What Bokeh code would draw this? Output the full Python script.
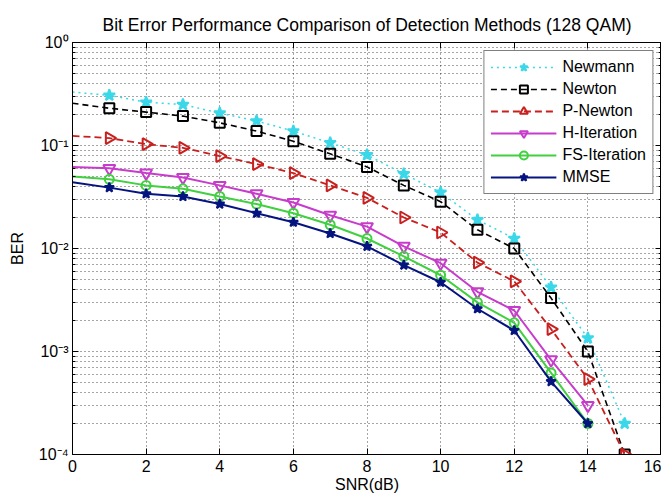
import math
from bokeh.plotting import figure
from bokeh.models import FixedTicker, LinearAxis, LogAxis
from bokeh.embed import file_html
from bokeh.resources import INLINE

# ---------------- data ----------------
snr = [0, 1, 2, 3, 4, 5, 6, 7, 8, 9, 10, 11, 12, 13, 14, 15]
newmann = [0.33, 0.307, 0.263, 0.25, 0.206, 0.173, 0.138, 0.106, 0.081, 0.053,
           0.035, 0.019, 0.0125, 0.0042, 0.00135, 0.0002]
newton = [0.257, 0.23, 0.211, 0.193, 0.166, 0.138, 0.110, 0.083, 0.062, 0.041,
          0.0285, 0.0152, 0.010, 0.0033, 0.001, 0.0001]
pnewton = [0.124, 0.118, 0.103, 0.095, 0.079, 0.066, 0.054, 0.041, 0.031, 0.020,
           0.0143, 0.0073, 0.0048, 0.00165, 0.00054, 0.0001]
hiter = [0.062, 0.060, 0.054, 0.049, 0.041, 0.034, 0.028, 0.021, 0.0163, 0.0105,
         0.0072, 0.0038, 0.0025, 0.00083, 0.0003]
fsiter = [0.050, 0.047, 0.041, 0.038, 0.032, 0.027, 0.022, 0.017, 0.0125, 0.0084,
          0.0055, 0.0030, 0.0019, 0.00062, 0.0002]
mmse = [0.044, 0.039, 0.034, 0.032, 0.027, 0.022, 0.018, 0.014, 0.0105, 0.0069,
        0.0047, 0.0026, 0.0016, 0.00051, 0.0002]

x_ticks = [0, 2, 4, 6, 8, 10, 12, 14, 16]
y_ticks = [1e-4, 1e-3, 1e-2, 1e-1, 1e0]
y_tick_labels = ["10\u207b\u2074", "10\u207b\u00b3", "10\u207b\u00b2", "10\u207b\u00b9", "10\u2070"]
title_text = "Bit Error Performance Comparison of Detection Methods (128 QAM)"

FONT = "Liberation Sans"

y_minor = [k * 10.0 ** n for n in range(-4, 0) for k in range(2, 10)]

p = figure(frame_width=589, frame_height=412,
           x_range=(0, 16), y_range=(1e-4, 1), y_axis_type="log",
           output_backend="svg", toolbar_location=None,
           min_border_left=72, min_border_right=0, min_border_top=42, min_border_bottom=0,
           title=title_text)

p.background_fill_color = "white"
p.border_fill_color = "white"
p.outline_line_color = "black"
p.outline_line_width = 1

p.title.text_font = FONT
p.title.text_font_size = "17.5px"
p.title.text_font_style = "normal"
p.title.align = "center"
p.title.text_color = "black"
p.title.standoff = 16


def style_axis(ax, labels=True):
    ax.axis_line_color = "black"
    ax.major_tick_line_color = "black"
    ax.minor_tick_line_color = "black"
    ax.major_tick_in = 6
    ax.major_tick_out = 0
    ax.minor_tick_in = 3
    ax.minor_tick_out = 0
    ax.major_label_text_font = FONT
    ax.axis_label_text_font = FONT
    ax.axis_label_text_font_style = "normal"
    ax.axis_label_text_color = "black"
    if labels:
        ax.major_label_text_color = "black"
        ax.major_label_text_font_size = "16px"
        ax.axis_label_text_font_size = "16px"
    else:
        ax.major_label_text_color = None
        ax.major_label_text_font_size = "1px"
        ax.major_label_standoff = 0


xt = FixedTicker(ticks=x_ticks, minor_ticks=[])
yt = FixedTicker(ticks=y_ticks, minor_ticks=y_minor)

xa = p.xaxis[0]
xa.ticker = xt
xa.axis_label = "SNR(dB)"
style_axis(xa)
xa.major_label_standoff = 5
xa.axis_label_standoff = 1

ya = p.yaxis[0]
ya.ticker = yt
ya.axis_label = "BER"
ya.major_label_overrides = {t: l for t, l in zip(y_ticks, y_tick_labels)}
style_axis(ya)
ya.major_label_standoff = 4
ya.axis_label_standoff = 10

top = LinearAxis(ticker=FixedTicker(ticks=x_ticks, minor_ticks=[]))
style_axis(top, labels=False)
top.major_label_overrides = {t: " " for t in x_ticks}
p.add_layout(top, "above")
right = LogAxis(ticker=FixedTicker(ticks=y_ticks, minor_ticks=y_minor))
style_axis(right, labels=False)
right.major_label_overrides = {t: " " for t in y_ticks}
p.add_layout(right, "right")

p.xgrid.ticker = xt
p.ygrid.ticker = yt
for g in (p.xgrid, p.ygrid):
    g.grid_line_color = "black"
    g.grid_line_alpha = 0.7
    g.grid_line_dash = "1 3"
    g.grid_line_width = 1
p.ygrid.minor_grid_line_color = "black"
p.ygrid.minor_grid_line_alpha = 0.7
p.ygrid.minor_grid_line_dash = "1 3"

series = [
    ("Newmann", newmann, "#3ad8e8", "dotted", 1.5, "star", 12, True),
    ("Newton", newton, "black", "6 4", 1.6, "square", 10, False),
    ("P-Newton", pnewton, "#c8201e", "7 4", 1.8, "triangle", 12, False),
    ("H-Iteration", hiter, "#c83ccc", "solid", 2.0, "inverted_triangle", 12, False),
    ("FS-Iteration", fsiter, "#40d040", "solid", 2.0, "circle", 9, False),
    ("MMSE", mmse, "#061480", "solid", 2.0, "star", 10, True),
]

for name, vals, color, dash, lw, marker, size, filled in series:
    xs = snr[:len(vals)]
    p.line(xs, vals, line_color=color, line_dash=dash, line_width=lw, legend_label=name)
    angle = -math.pi / 2 if name == "P-Newton" else 0.0
    p.scatter(xs[1:], vals[1:], marker=marker, size=size, angle=angle,
              line_color=color, line_width=2,
              fill_color=color if filled else "white",
              fill_alpha=1.0 if filled else 0.0,
              legend_label=name)

lg = p.legend[0]
lg.location = "top_right"
lg.margin = 8
lg.padding = 6
lg.spacing = 2
lg.glyph_width = 66
lg.glyph_height = 20
lg.label_standoff = 6
lg.label_text_font = FONT
lg.label_text_font_size = "16px"
lg.label_text_color = "black"
lg.border_line_color = "black"
lg.border_line_width = 1
lg.background_fill_color = "white"
lg.background_fill_alpha = 1.0

open("out.html", "w").write(file_html(p, INLINE))
